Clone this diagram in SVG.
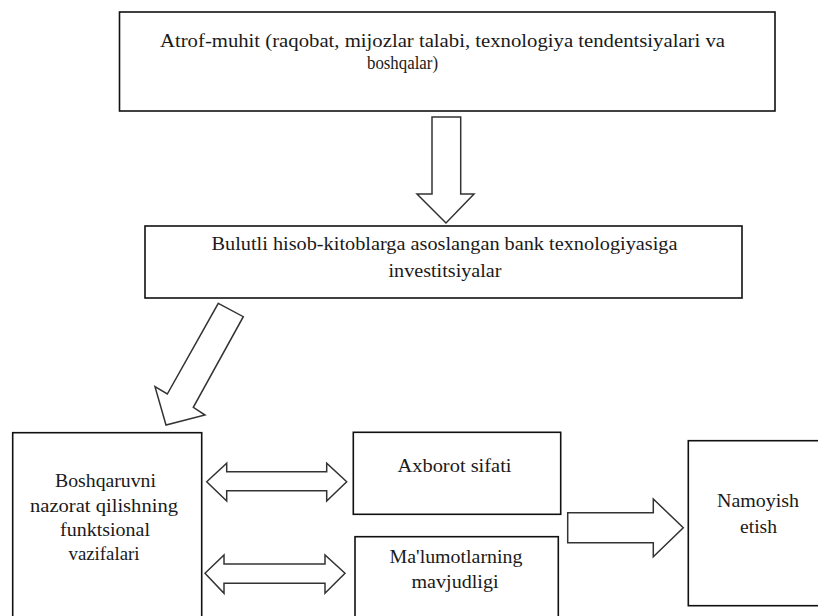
<svg xmlns="http://www.w3.org/2000/svg" width="818" height="616" viewBox="0 0 818 616">
<style>
.box{fill:#fff;stroke:#111;stroke-width:1.6}
.arr{fill:#fff;stroke:#333;stroke-width:1.5;stroke-linejoin:miter}
.t{font-size:18px;fill:#1a1a1a;text-anchor:middle}
</style>
<rect width="818" height="616" fill="#fff"/>
<g id="connectors">
<polygon class="arr" points="432,117 460.7,117 460.7,194 474,194 446,223 417,194 432,194"/>
<polygon class="arr" points="218.3,303.3 243.3,316.7 193.3,407.3 205,415 166,425 155,386.7 167.3,394"/>
<polygon class="arr" points="206.7,481.7 226.7,463.3 226.7,471.7 326.7,471.7 326.7,463.3 346.7,481.7 326.7,501 326.7,490.7 226.7,490.7 226.7,501"/>
<polygon class="arr" points="205,573.3 224,555 224,564 325,564 325,555 345,573.3 325,593.3 325,583.3 224,583.3 224,593.3"/>
<polygon class="arr" points="567.7,512.7 653.3,512.7 653.3,499 683.3,527.7 653.3,556.7 653.3,542.7 567.7,542.7"/>
</g>
<g font-family="Liberation Serif, Times New Roman, serif">
<g id="node-env">
<rect class="box" x="119.5" y="12" width="655.5" height="99"/>
<text class="t" x="442.5" y="47" textLength="565" lengthAdjust="spacingAndGlyphs">Atrof-muhit (raqobat, mijozlar talabi, texnologiya tendentsiyalari  va</text>
<text class="t" x="402.5" y="69" textLength="71" lengthAdjust="spacingAndGlyphs">boshqalar)</text>
</g>
<g id="node-invest">
<rect class="box" x="145" y="226" width="597" height="72"/>
<text class="t" x="444.5" y="250" textLength="466" lengthAdjust="spacingAndGlyphs">Bulutli hisob-kitoblarga asoslangan bank texnologiyasiga</text>
<text class="t" x="445" y="276.5" textLength="113" lengthAdjust="spacingAndGlyphs">investitsiyalar</text>
</g>
<g id="node-control">
<rect class="box" x="12.7" y="432.7" width="189" height="200"/>
<text class="t" x="105.5" y="487" textLength="101" lengthAdjust="spacingAndGlyphs">Boshqaruvni</text>
<text class="t" x="104" y="511.5" textLength="148" lengthAdjust="spacingAndGlyphs">nazorat  qilishning</text>
<text class="t" x="105" y="536" textLength="90" lengthAdjust="spacingAndGlyphs">funktsional</text>
<text class="t" x="104" y="560" textLength="71" lengthAdjust="spacingAndGlyphs">vazifalari</text>
</g>
<g id="node-info">
<rect class="box" x="353.3" y="432.3" width="207.4" height="82"/>
<text class="t" x="454.5" y="471.5" textLength="114" lengthAdjust="spacingAndGlyphs">Axborot  sifati</text>
</g>
<g id="node-data">
<rect class="box" x="355" y="536.7" width="203.3" height="100"/>
<text class="t" x="456" y="562.5" textLength="133" lengthAdjust="spacingAndGlyphs">Ma'lumotlarning</text>
<text class="t" x="455" y="588" textLength="87" lengthAdjust="spacingAndGlyphs">mavjudligi</text>
</g>
<g id="node-show">
<rect class="box" x="688.3" y="440.7" width="150" height="165"/>
<text class="t" x="758" y="507" textLength="82" lengthAdjust="spacingAndGlyphs">Namoyish</text>
<text class="t" x="758.5" y="533" textLength="37" lengthAdjust="spacingAndGlyphs">etish</text>
</g>
</g>
</svg>
